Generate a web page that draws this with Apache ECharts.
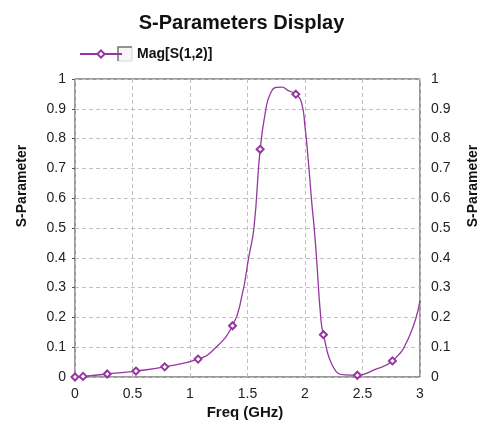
<!DOCTYPE html>
<html>
<head>
<meta charset="utf-8">
<script src="https://cdn.jsdelivr.net/npm/echarts@6/dist/echarts.min.js"></script>
<style>
  html, body { margin: 0; padding: 0; background: #fff; }
  #chart { width: 483px; height: 424px; }
</style>
</head>
<body>
<div id="chart"></div>
<script>
// curve (GHz vs |S12|)
const freqGHz = [0, 0.07, 0.28, 0.53, 0.78, 1.07, 1.2, 1.37, 1.45, 1.51, 1.556, 1.61, 1.66, 1.7, 1.75, 1.8, 1.85, 1.92, 1.97, 2.0, 2.03, 2.06, 2.08, 2.1, 2.137, 2.16, 2.25, 2.35, 2.455, 2.6, 2.76, 2.9, 3.0]
const magS12 = [0, 0.002, 0.01, 0.02, 0.034, 0.06, 0.09, 0.172, 0.27, 0.4, 0.5, 0.764, 0.9, 0.952, 0.972, 0.973, 0.962, 0.949, 0.92, 0.84, 0.72, 0.58, 0.5, 0.4, 0.2, 0.142, 0.03, 0.007, 0.006, 0.024, 0.054, 0.13, 0.256]
// 1 = a diamond marker is drawn on that point
const markerFlags = [1, 1, 1, 1, 1, 1, 0, 1, 0, 0, 0, 1, 0, 0, 0, 0, 0, 1, 0, 0, 0, 0, 0, 0, 0, 1, 0, 0, 1, 0, 1, 0, 0]
const yTicks = [0, 0.1, 0.2, 0.3, 0.4, 0.5, 0.6, 0.7, 0.8, 0.9, 1]

const lineColor = '#94379f'
const font = 'Liberation Sans, Arial, sans-serif'

const chart = echarts.init(document.getElementById('chart'))

const seriesData = freqGHz.map((f, i) => {
    const item = { value: [f, magS12[i]] }
    if (!markerFlags[i]) item.symbol = 'none'
    return item
})

const yLabelFmt = v => {
    const hit = yTicks.find(t => Math.abs(t - v) < 1e-6)
    return hit === undefined ? '' : String(hit)
}

const option = {
    backgroundColor: '#fff',
    animation: false,
    textStyle: { fontFamily: font },
    title: {
        text: 'S-Parameters Display',
        left: 'center',
        top: 8,
        textStyle: { fontSize: 20, fontWeight: 'bold', color: '#111', fontFamily: font }
    },
    legend: {
        left: 74,
        top: 42,
        itemWidth: 42,
        itemHeight: 9,
        selectedMode: false,
        textStyle: { fontSize: 14, fontWeight: 'bold', color: '#111', fontFamily: font, padding: [0, 0, 0, 10] },
        data: ['Mag[S(1,2)]']
    },
    grid: {
        left: 75, right: 63, top: 79, bottom: 47,
        show: true,
        borderColor: '#333',
        borderWidth: 1
    },
    xAxis: {
        type: 'value',
        min: 0, max: 3, interval: 0.5,
        axisLine: { show: false },
        axisTick: { show: false },
        axisLabel: { fontSize: 14, color: '#222', margin: 10, fontFamily: font },
        splitLine: { show: true, lineStyle: { color: '#c0c0c0', type: [4, 3] } }
    },
    yAxis: [
        {
            type: 'value',
            min: 0, max: 1, interval: 0.1,
            position: 'left',
            axisLine: { show: false },
            axisTick: { show: true, length: 3, inside: false, lineStyle: { color: '#555' } },
            axisLabel: { fontSize: 14, color: '#222', margin: 9, fontFamily: font, formatter: yLabelFmt },
            splitLine: { show: true, lineStyle: { color: '#c0c0c0', type: [4, 3] } }
        },
        {
            type: 'value',
            min: 0, max: 1, interval: 0.1,
            position: 'right',
            axisLine: { show: false },
            axisTick: { show: false },
            axisLabel: { fontSize: 14, color: '#222', margin: 11, fontFamily: font, formatter: yLabelFmt },
            splitLine: { show: false }
        }
    ],
    graphic: [
        {
            type: 'text',
            x: 22, y: 186,
            rotation: Math.PI / 2,
            style: { text: 'S-Parameter', fill: '#111', font: 'bold 14px ' + font, align: 'center', verticalAlign: 'middle' }
        },
        {
            type: 'text',
            x: 473, y: 186,
            rotation: Math.PI / 2,
            style: { text: 'S-Parameter', fill: '#111', font: 'bold 14px ' + font, align: 'center', verticalAlign: 'middle' }
        },
        {
            type: 'text',
            x: 245, y: 413,
            style: { text: 'Freq (GHz)', font: 'bold 15px ' + font, fill: '#111', align: 'center', verticalAlign: 'middle' }
        },
        // little checkbox in the legend
        {
            type: 'rect',
            shape: { x: 118, y: 47, width: 14, height: 14 },
            style: { fill: '#f6f6f6', stroke: '#d8d8d8', lineWidth: 1 }
        },
        {
            type: 'polyline',
            shape: { points: [[118, 61], [118, 47], [132, 47]] },
            style: { stroke: '#777', lineWidth: 1.5, fill: null }
        }
    ],
    series: [{
        name: 'Mag[S(1,2)]',
        type: 'line',
        data: seriesData,
        smooth: 0.5,
        symbol: 'emptyDiamond',
        symbolSize: 7,
        showAllSymbol: true,
        lineStyle: { color: lineColor, width: 1.3 },
        itemStyle: { color: lineColor, borderWidth: 1 }
    }]
}

chart.setOption(option)
</script>
</body>
</html>
